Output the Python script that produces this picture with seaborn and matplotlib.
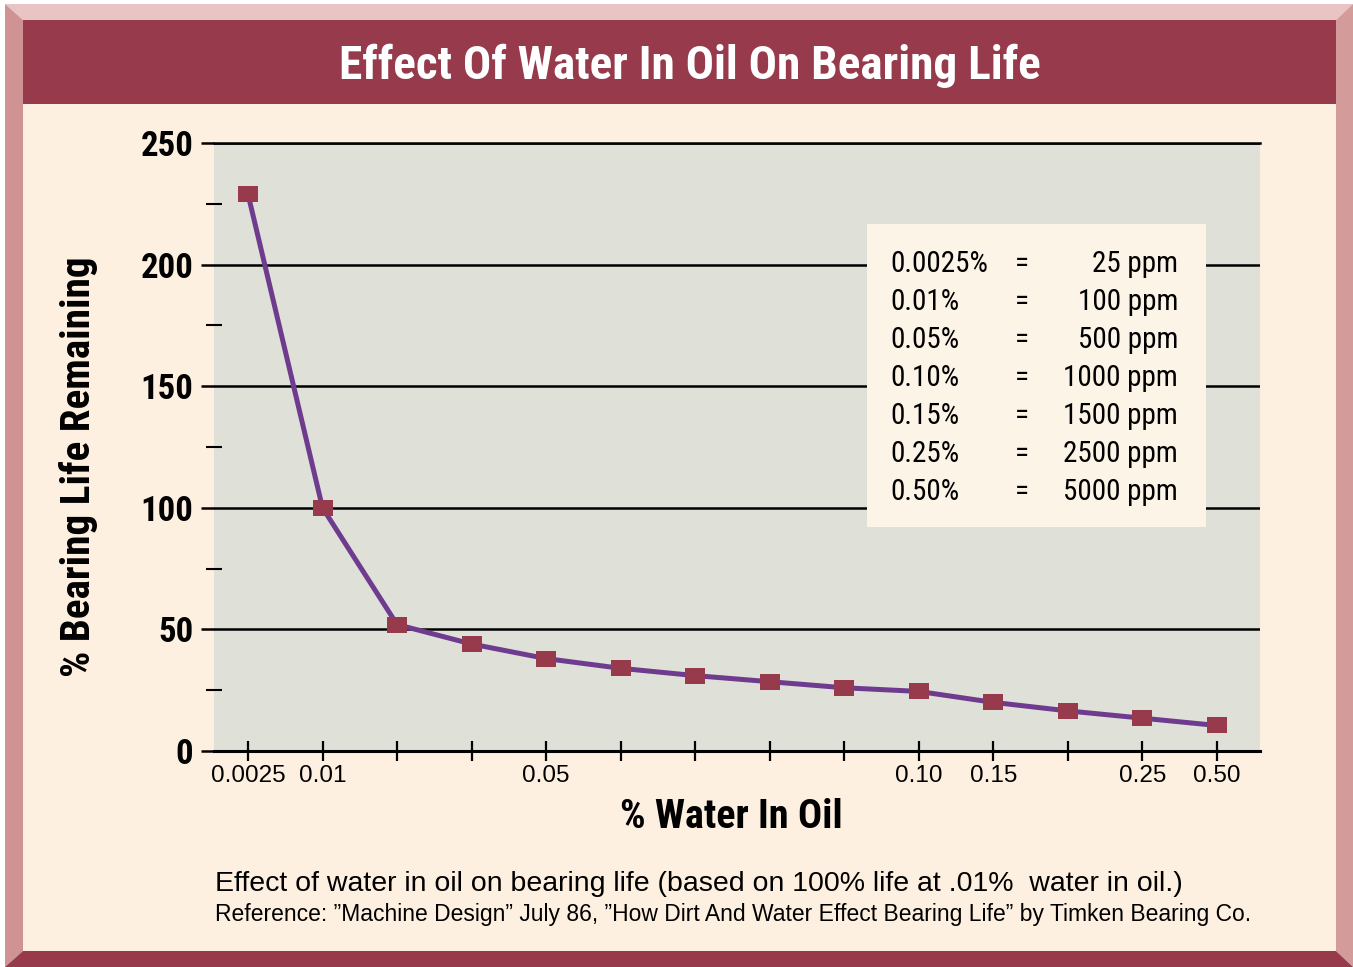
import numpy as np
import pandas as pd
import matplotlib
matplotlib.use("Agg")
import matplotlib.pyplot as plt
from matplotlib.patches import Polygon, Rectangle
from matplotlib.ticker import MultipleLocator
import seaborn as sns

# values
water_labels = ["0.0025", "0.01", "", "", "0.05", "", "", "", "", "0.10", "0.15", "", "0.25", "0.50"]
life_remaining = [229, 100, 52, 44, 38, 34, 31, 28.5, 26, 24.5, 20, 16.5, 13.5, 10.5]

pct_rows = ["0.0025%", "0.01%", "0.05%", "0.10%", "0.15%", "0.25%", "0.50%"]
ppm_rows = ["25 ppm", "100 ppm", "500 ppm", "1000 ppm", "1500 ppm", "2500 ppm", "5000 ppm"]

title = "Effect Of Water In Oil On Bearing Life"
caption = "Effect of water in oil on bearing life (based on 100% life at .01%  water in oil.)"
reference = ("Reference: \u201dMachine Design\u201d July 86, "
             "\u201dHow Dirt And Water Effect Bearing Life\u201d by Timken Bearing Co.")

# colours
maroon = "#963A4C"
cream = "#FEF0E0"
panel = "#DFE1D8"
box_col = "#FDF4E8"
purple = "#6F3B8E"

narrow = ["Roboto Condensed", "DejaVu Sans"]
plain = ["Liberation Sans", "DejaVu Sans"]

sns.set_style("white")
plt.rcParams["font.family"] = plain
plt.rcParams["text.color"] = "black"

W, H = 1353, 967
fig = plt.figure(figsize=(W / 100, H / 100), dpi=100)
fig.patch.set_facecolor("white")


def fp(pts):
    return [(x / W, 1 - y / H) for x, y in pts]


# bevelled frame
frame = [
    ([(5, 4), (1353, 4), (1336, 20), (23, 20)], "#E8C4C4"),
    ([(5, 4), (23, 20), (23, 951), (5, 967)], "#D09393"),
    ([(1353, 4), (1353, 967), (1336, 951), (1336, 20)], "#D49B9B"),
    ([(5, 967), (23, 951), (1336, 951), (1353, 967)], maroon),
    ([(23, 20), (1336, 20), (1336, 104), (23, 104)], maroon),
    ([(23, 104), (1336, 104), (1336, 951), (23, 951)], cream),
]
for pts, c in frame:
    fig.add_artist(Polygon(fp(pts), closed=True, transform=fig.transFigure,
                           facecolor=c, edgecolor="none", zorder=0))

ax = fig.add_axes([214 / W, 1 - 751 / H, (1260 - 214) / W, (751 - 143) / H])
ax.set_facecolor(panel)

df = pd.DataFrame({"pos": np.arange(len(life_remaining)), "life": life_remaining})
rect_marker = [(-1, -0.8), (1, -0.8), (1, 0.8), (-1, 0.8)]
sns.lineplot(data=df, x="pos", y="life", ax=ax, color=purple, lw=3.6,
             marker=rect_marker, markersize=14.4, markerfacecolor=maroon,
             markeredgecolor=maroon, markeredgewidth=0, zorder=5)

ax.set_xlim(-0.456, 13.58)
ax.set_ylim(0, 250)
ax.set_xticks(np.arange(len(water_labels)))
ax.set_xticklabels(water_labels, fontsize=17.5, family=plain, color="black")
ax.yaxis.set_major_locator(MultipleLocator(50))
ax.yaxis.set_minor_locator(MultipleLocator(25))
for t in ax.get_yticklabels():
    t.set_family(narrow)
    t.set_fontweight("bold")
    t.set_fontsize(25)
    t.set_color("black")

ax.tick_params(axis="x", direction="inout", length=15, width=1.6, color="black", pad=2.5)
ax.tick_params(axis="y", which="major", direction="out", length=9.4, width=1.8,
               color="black", pad=5.5, left=True)
ax.tick_params(axis="y", which="minor", direction="inout", length=12.2, width=1.5,
               color="black", left=True)
ax.tick_params(axis="x", bottom=True)

for side in ["left", "right"]:
    ax.spines[side].set_visible(False)
ax.spines["top"].set_color("black")
ax.spines["top"].set_linewidth(1.8)
ax.spines["bottom"].set_color("black")
ax.spines["bottom"].set_linewidth(2.2)
ax.yaxis.grid(True, color="black", lw=1.8)
ax.xaxis.grid(False)
ax.set_axisbelow(True)
ax.set_xlabel("")
ax.set_ylabel("")

# conversion box
ax.add_patch(Rectangle((867 / W, 1 - 527 / H), (1206 - 867) / W, (527 - 224) / H,
                       transform=fig.transFigure, facecolor=box_col,
                       edgecolor="none", zorder=3))
for i, (p, q) in enumerate(zip(pct_rows, ppm_rows)):
    y = 1 - (272 + 38 * i) / H
    kw = dict(va="baseline", fontsize=21, family=narrow, zorder=6)
    fig.text(890 / W, y, p, ha="left", **kw)
    fig.text(1022 / W, y, "=", ha="center", **kw)
    fig.text(1178 / W, y, q, ha="right", **kw)

# titles and captions
fig.text(690 / W, 1 - 66 / H, title, ha="center", va="center", color="white",
         fontsize=34, fontweight="bold", family=narrow)
fig.text(79 / W, 1 - 467 / H, "% Bearing Life Remaining", rotation=90, ha="center",
         va="center", fontsize=29.6, fontweight="bold", family=narrow)
fig.text(731 / W, 1 - 817 / H, "% Water In Oil", ha="center", va="center",
         fontsize=29, fontweight="bold", family=narrow)
fig.text(215 / W, 1 - 884 / H, caption, ha="left", va="center", fontsize=20.5, family=plain)
fig.text(215 / W, 1 - 914 / H, reference, ha="left", va="center", fontsize=16.5, family=plain)

fig.savefig("out.png", dpi=100)
